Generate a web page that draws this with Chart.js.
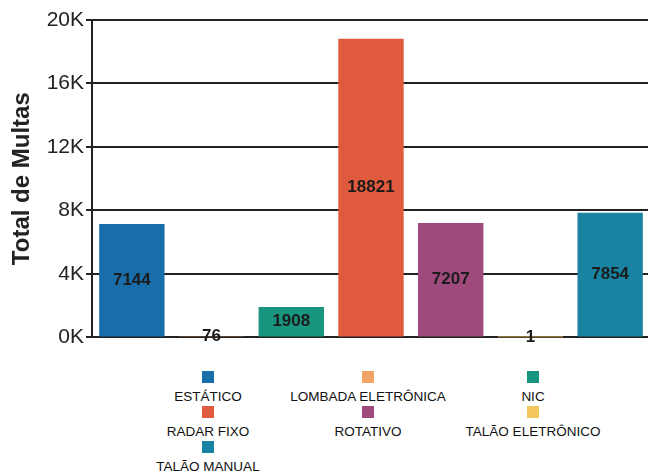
<!DOCTYPE html>
<html>
<head>
<meta charset="utf-8">
<script src="https://cdn.jsdelivr.net/npm/chart.js@4"></script>
<style>
  html, body { margin: 0; padding: 0; background: #fff; overflow: hidden; }
  body { width: 648px; height: 475px; position: relative; font-family: "Liberation Sans", Arial, sans-serif; }
  #wrap { position: absolute; left: 0; top: 0; width: 652px; height: 352px; }
  #legend { position: absolute; left: 128px; top: 371px; display: grid; grid-template-columns: 160px 160px 170px; }
  .item { height: 35px; text-align: center; }
  .sw { width: 12px; height: 12px; margin: 0 auto 6px auto; }
  .lb { font-size: 13.5px; line-height: 15px; color: #111; white-space: nowrap; }
</style>
</head>
<body>
<div id="wrap"><canvas id="multasChart" width="652" height="352"></canvas></div>
<div id="legend"></div>
<script>
// dados
const categorias = ['ESTÁTICO', 'LOMBADA ELETRÔNICA', 'NIC', 'RADAR FIXO', 'ROTATIVO', 'TALÃO ELETRÔNICO', 'TALÃO MANUAL'];
const totalMultas = [7144, 76, 1908, 18821, 7207, 1, 7854];
const cores = ['#1a6dab', '#f0a466', '#17957e', '#e05a3d', '#9e4a7c', '#f3c65e', '#1883a3'];

// rótulos no meio das barras
const rotulosPlugin = {
  id: 'rotulos',
  afterDatasetsDraw(chart) {
    const ctx = chart.ctx;
    const meta = chart.getDatasetMeta(0);
    ctx.save();
    ctx.font = 'bold 17px "Liberation Sans", Arial, sans-serif';
    ctx.fillStyle = '#1b1b1b';
    ctx.textAlign = 'center';
    ctx.textBaseline = 'middle';
    meta.data.forEach((bar, i) => {
      const y = (bar.y + bar.base) / 2;
      ctx.fillText(String(totalMultas[i]), bar.x, y);
    });
    ctx.restore();
  }
};

const ctx = document.getElementById('multasChart').getContext('2d');
new Chart(ctx, {
  type: 'bar',
  data: {
    labels: categorias,
    datasets: [{
      data: totalMultas,
      backgroundColor: cores,
      borderWidth: 0,
      barPercentage: 0.82,
      categoryPercentage: 1
    }]
  },
  options: {
    responsive: false,
    animation: false,
    layout: { padding: { top: 20, right: 2, bottom: 0, left: 0 } },
    plugins: { legend: { display: false }, tooltip: { enabled: false } },
    scales: {
      x: {
        grid: { display: false },
        border: { display: false },
        ticks: { display: false }
      },
      y: {
        min: 0,
        max: 20000,
        ticks: {
          stepSize: 4000,
          color: '#222',
          padding: 2,
          font: { family: '"Liberation Sans", Arial, sans-serif', size: 21 },
          callback: v => (v / 1000) + 'K'
        },
        grid: { color: '#222', lineWidth: 2, tickLength: 6 },
        border: { color: '#222', width: 2 },
        title: {
          display: true,
          text: 'Total de Multas',
          color: '#222',
          padding: { top: 8, bottom: 2 },
          font: { family: '"Liberation Sans", Arial, sans-serif', size: 24, weight: 'bold' }
        },
        afterFit: scale => { scale.width = 92; }
      }
    }
  },
  plugins: [rotulosPlugin]
});

// legenda em 3 colunas
const legend = document.getElementById('legend');
categorias.forEach((nome, i) => {
  const item = document.createElement('div');
  item.className = 'item';
  item.innerHTML = '<div class="sw" style="background:' + cores[i] + '"></div><div class="lb">' + nome + '</div>';
  legend.appendChild(item);
});
</script>
</body>
</html>
